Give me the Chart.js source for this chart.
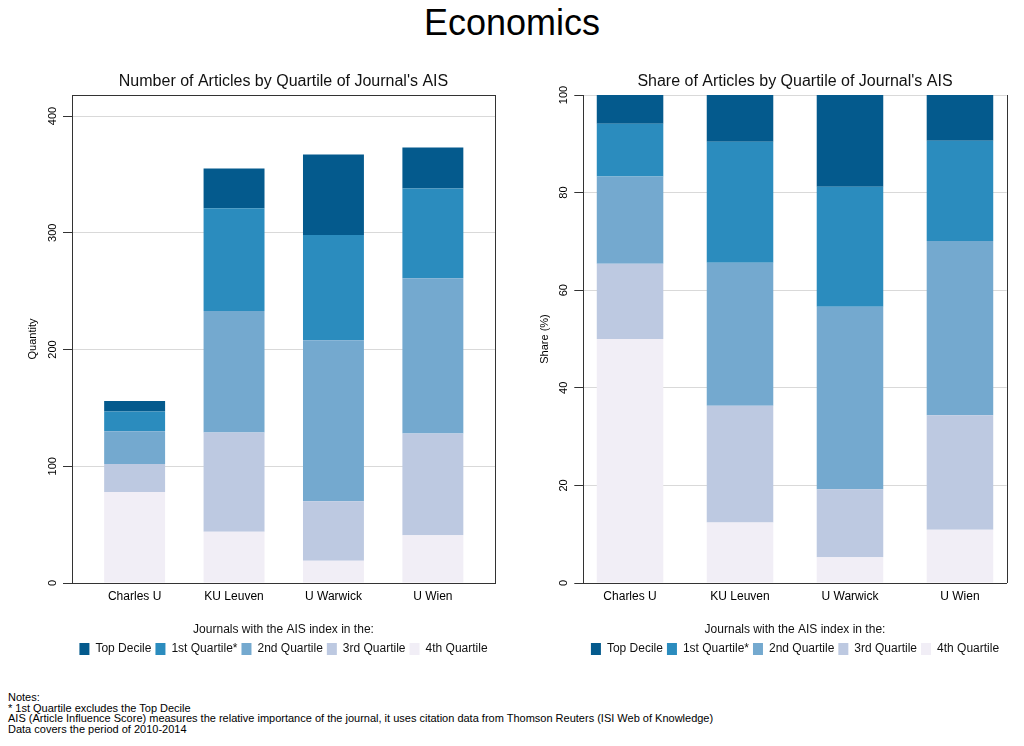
<!DOCTYPE html>
<html><head><meta charset="utf-8">
<script src="https://cdn.jsdelivr.net/npm/chart.js@4.4.0/dist/chart.umd.min.js"></script>
<style>
body{margin:0;background:#fff;width:1024px;height:746px;overflow:hidden;position:relative;font-family:"Liberation Sans",Arial,sans-serif;}
#title{position:absolute;left:0;top:3px;width:1024px;text-align:center;font-size:36px;color:#000;line-height:40px;}
.wrap{position:absolute;top:60px;width:512px;height:610px;}
#notes{position:absolute;left:8px;top:692px;font-size:11px;line-height:10.6px;color:#000;white-space:nowrap;}
</style></head>
<body>
<div id="title">Economics</div>
<div class="wrap" style="left:0"><canvas id="c1"></canvas></div>
<div class="wrap" style="left:512px"><canvas id="c2"></canvas></div>
<div id="notes">Notes:<br>* 1st Quartile excludes the Top Decile<br>AIS (Article Influence Score) measures the relative importance of the journal, it uses citation data from Thomson Reuters (ISI Web of Knowledge)<br>Data covers the period of 2010-2014</div>
<script>
const categories = ["Charles U", "KU Leuven", "U Warwick", "U Wien"];
const seriesNames = ["Top Decile", "1st Quartile*", "2nd Quartile", "3rd Quartile", "4th Quartile"];
// Number of articles
const countTop = [9, 34, 69, 35];
const countQ1  = [17, 88, 90, 77];
const countQ2  = [28, 104, 138, 133];
const countQ3  = [24, 85, 51, 87];
const countQ4  = [78, 44, 19, 41];
// Share of articles (%)
const shareTop = [5.9, 9.6, 18.8, 9.4];
const shareQ1  = [10.8, 24.8, 24.6, 20.5];
const shareQ2  = [17.9, 29.3, 37.4, 35.7];
const shareQ3  = [15.4, 23.9, 13.9, 23.5];
const shareQ4  = [50.0, 12.4, 5.3, 10.9];
const countTicks = [0, 100, 200, 300, 400];
const shareTicks = [0, 20, 40, 60, 80, 100];
const colors = ["#045a8d", "#2b8cbe", "#74a9cf", "#bdc9e1", "#f1eef6"];

Chart.defaults.font.family = '"Liberation Sans", Arial, sans-serif';
Chart.defaults.color = '#000';

const framePlugin = {
  id: 'frame',
  afterDraw(chart, args, opts) {
    const {ctx, chartArea: a} = chart;
    ctx.save();
    ctx.strokeStyle = '#333';
    ctx.lineWidth = 1;
    ctx.beginPath();
    const r = Math.round(a.right) + 0.5;
    if (opts.top) {
      const t = Math.round(a.top) + 0.5;
      ctx.moveTo(a.left, t); ctx.lineTo(r, t);
    }
    ctx.moveTo(r, a.top); ctx.lineTo(r, a.bottom);
    ctx.stroke();
    ctx.restore();
  }
};

function makeDatasets(arrs) {
  // arrs in legend order (Top..Q4); stack bottom = Q4
  const ds = arrs.map((arr, k) => ({
    label: seriesNames[k],
    data: categories.map((c, i) => ({x: i, y: arr[i]})),
    backgroundColor: colors[k],
    borderColor: colors[k],
    borderWidth: 0
  }));
  return ds.reverse();
}

function makeChart(id, arrs, cfg) {
  return new Chart(document.getElementById(id), {
    type: 'bar',
    data: { datasets: makeDatasets(arrs) },
    plugins: [framePlugin],
    options: {
      responsive: true,
      maintainAspectRatio: false,
      animation: false,
      devicePixelRatio: 1,
      layout: { padding: { left: 0, right: cfg.padRight, top: 0, bottom: 5 } },
      datasets: { bar: { categoryPercentage: 1, barPercentage: cfg.barPct } },
      scales: {
        x: {
          type: 'linear', min: cfg.xmin, max: cfg.xmax, stacked: true, offset: false,
          afterBuildTicks: s => { s.ticks = categories.map((c, i) => ({value: i})); },
          ticks: { callback: v => categories[v], font: {size: 12}, color: '#000', padding: 6, autoSkip: false, maxRotation: 0 },
          grid: { display: false, drawTicks: false },
          border: { display: true, color: '#333', width: 1 },
          afterFit: s => { s.height = 25; }
        },
        y: {
          min: 0, max: cfg.ymax, stacked: true,
          afterBuildTicks: s => { s.ticks = cfg.ticks.map(v => ({value: v})); },
          ticks: { font: {size: 11}, color: '#000', minRotation: 90, maxRotation: 90, crossAlign: 'center', padding: 1 },
          grid: {
            color: c => (c.tick && c.tick.value === 0) ? 'rgba(0,0,0,0)' : '#d9d9d9',
            tickColor: '#333', tickLength: 9, lineWidth: 1, drawTicks: true
          },
          border: { color: '#333', width: 1 },
          title: { display: true, text: cfg.ytitle, font: {size: 11}, color: '#000', padding: {top: 26, bottom: 0} },
          afterFit: s => { s.width = cfg.yw; }
        }
      },
      plugins: {
        frame: { top: cfg.frameTop },
        tooltip: { enabled: false },
        title: {
          display: true, text: cfg.title, fullSize: false,
          font: {size: 16, weight: 'normal'}, color: '#111',
          padding: {top: 12.4, bottom: 3.4}
        },
        legend: {
          position: 'bottom', fullSize: false, reverse: true,
          labels: { boxWidth: 10, boxHeight: 12, padding: 4, font: {size: 12}, color: '#111' },
          title: { display: true, text: 'Journals with the AIS index in the:', color: '#111',
                   font: {size: 12, lineHeight: '10px'}, padding: {top: 16, bottom: 5} }
        }
      }
    }
  });
}

makeChart('c1', [countTop, countQ1, countQ2, countQ3, countQ4], {
  padRight: 17, barPct: 0.613, xmin: -0.63, xmax: 3.625, ymax: 418, ticks: countTicks,
  ytitle: 'Quantity', yw: 72, frameTop: true,
  title: "Number of Articles by Quartile of Journal's AIS"
});
makeChart('c2', [shareTop, shareQ1, shareQ2, shareQ3, shareQ4], {
  padRight: 17.3, barPct: 0.605, xmin: -0.425, xmax: 3.425, ymax: 100, ticks: shareTicks,
  ytitle: 'Share (%)', yw: 71.3, frameTop: false,
  title: "Share of Articles by Quartile of Journal's AIS"
});
</script>
</body></html>
